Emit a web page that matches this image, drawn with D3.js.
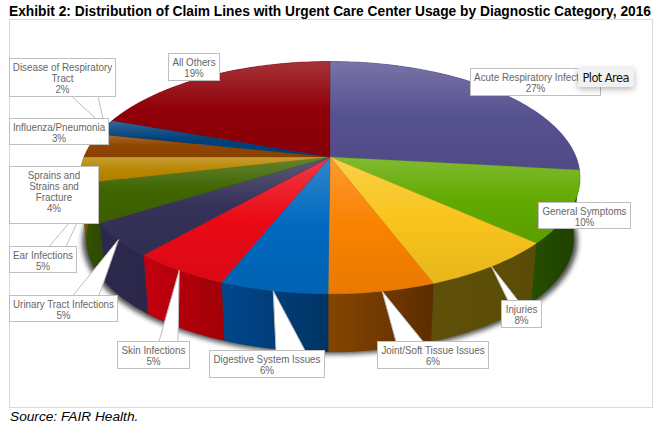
<!DOCTYPE html>
<html><head><meta charset="utf-8">
<style>html,body{margin:0;padding:0;background:#fff}svg{display:block}text{font-family:"Liberation Sans",Arial,sans-serif}</style>
<script src="https://cdnjs.cloudflare.com/ajax/libs/d3/7.8.5/d3.min.js"></script>
</head><body><svg id="c" width="661" height="433"></svg>
<script>
const categories=["Acute Respiratory Infections","General Symptoms","Injuries","Joint/Soft Tissue Issues","Digestive System Issues","Skin Infections","Urinary Tract Infections","Ear Infections","Sprains and Strains and Fracture","Influenza/Pneumonia","Disease of Respiratory Tract","All Others"];
const values=[26.8,10.0,7.5,5.8,5.9,5.4,4.7,5.3,3.6,3.4,2.2,19.4];
const colors=["#565190","#62aa00","#f8c41c","#fa8200","#0069bf","#ea0a16","#353158","#3f6500","#b98600","#924600","#00427c","#900008"];
const sideLeft=["#3c3868","#264f00","#5e5008","#864600","#00478c","#c4000f","#2c294e","#345400","#7a5800","#6a3300","#00305c","#6a0006"];
const sideRight=["#3c3868","#1e4000","#5a4c04","#5c2d00","#003464","#a00006","#2a274a","#2c4800","#7a5800","#6a3300","#00305c","#6a0006"];
const labelLines=[["Acute Respiratory Infections"],["General Symptoms"],["Injuries"],["Joint/Soft Tissue Issues"],["Digestive System Issues"],["Skin Infections"],["Urinary Tract Infections"],["Ear Infections"],["Sprains and","Strains and","Fracture"],["Influenza/Pneumonia"],["Disease of Respiratory","Tract"],["All Others"]];
// layout only: label box [x0,y0,x1,y1] and callout base [xa,xb] (null = no callout)
const boxes=[[470.5,68.5,600.5,95.5],[538.5,202.5,630.5,228.5],[501.5,300.5,541.5,327.5],[377.5,341.5,488.5,368.5],[209.5,350.5,324.5,377.5],[117.5,341.5,189.5,368.5],[9.5,295.5,117.5,321.5],[9.5,246.5,76.5,272.5],[9.5,166.5,98.5,223.5],[9.5,118.5,108.5,144.5],[9.5,58.5,115.5,96.5],[168.5,53.5,219.5,80.5]];
const bases=[null,null,[508,518],[396,423],[276,305],[159,178],[73,99],[49,66],null,null,[72,98],null];

const svg=d3.select("#c"),defs=svg.append("defs");
const cx=330,cy=157,A=246,B=112.5,k=0.178,depth=61.4,shrink=0.975;
function project(a,bottom){
  const u=Math.sin(a),v=-Math.cos(a),w=1-k*v,s=bottom?shrink:1;
  return [cx+s*A*u/w, cy+(bottom?depth:0)+s*B*v/w];
}
const arcs=d3.pie().sort(null).value(d=>d)(values);
const samples=(a0,a1)=>{const n=Math.max(2,Math.ceil((a1-a0)/0.02));return d3.range(n+1).map(i=>a0+(a1-a0)*i/n);};
const line=d3.line().curve(d3.curveLinear);

const sh=defs.append("filter").attr("id","blur").attr("x","-10%").attr("y","-10%").attr("width","120%").attr("height","120%");
sh.append("feGaussianBlur").attr("stdDeviation",2.6);
const tip=defs.append("filter").attr("id","tipShadow").attr("x","-30%").attr("y","-50%").attr("width","160%").attr("height","220%");
tip.append("feDropShadow").attr("dx",0).attr("dy",2).attr("stdDeviation",3).attr("flood-color","#000").attr("flood-opacity",.3);

arcs.forEach((d,i)=>{
  const c=colors[i];
  const g=defs.append("linearGradient").attr("id","top"+i).attr("x1",0).attr("y1",0).attr("x2",0).attr("y2",1);
  g.append("stop").attr("offset",0).attr("stop-color",d3.interpolateRgb(c,"#fff")(.2));
  g.append("stop").attr("offset",.5).attr("stop-color",c);
  g.append("stop").attr("offset",1).attr("stop-color",d3.interpolateRgb(c,"#000")(.07));
  const s=defs.append("linearGradient").attr("id","side"+i).attr("x1",0).attr("y1",0).attr("x2",1).attr("y2",0);
  s.append("stop").attr("offset",0).attr("stop-color",sideLeft[i]);
  s.append("stop").attr("offset",1).attr("stop-color",sideRight[i]);
});

// frame
svg.append("rect").attr("x",9.5).attr("y",19.5).attr("width",643).attr("height",388).attr("fill","#fff").attr("stroke","#d9d9d9");

// shadow below the pie body
svg.append("path").attr("d",line(samples(0,2*Math.PI).map(a=>{const p=project(a,true);return [p[0]+(p[0]-cx)*.016,p[1]+2.5];}))+"Z")
  .attr("fill","#333").attr("opacity",.85).attr("filter","url(#blur)");

// walls
svg.append("g").selectAll("path").data(arcs).join("path")
  .attr("d",d=>{const t=samples(d.startAngle,d.endAngle);return line(t.map(a=>project(a,false)).concat(t.slice().reverse().map(a=>project(a,true))))+"Z";})
  .attr("fill",(d,i)=>`url(#side${i})`).attr("stroke",(d,i)=>sideRight[i]).attr("stroke-width",.3);

// top faces
svg.append("g").selectAll("path").data(arcs).join("path")
  .attr("d",d=>line([[cx,cy]].concat(samples(d.startAngle,d.endAngle).map(a=>project(a,false))))+"Z")
  .attr("fill",(d,i)=>`url(#top${i})`).attr("stroke",(d,i)=>colors[i]).attr("stroke-width",.3);

// callouts and label boxes
const lab=svg.append("g");
arcs.forEach((d,i)=>{
  if(!bases[i])return;
  const [bx,by0,,by1]=boxes[i];
  const t=project((d.startAngle+d.endAngle)/2,false);
  const y=t[1]<by0?by0:by1;
  lab.append("path").attr("d",line([[bases[i][0],y],t,[bases[i][1],y]])+"Z").attr("fill","#fff").attr("stroke","#bfbfbf");
});
const fmt=d3.format(".0f");
arcs.forEach((d,i)=>{
  const b=boxes[i],m=(b[0]+b[2])/2;
  lab.append("rect").attr("x",b[0]).attr("y",b[1]).attr("width",b[2]-b[0]).attr("height",b[3]-b[1]).attr("fill","#fff").attr("stroke","#bfbfbf");
  const lines=labelLines[i].concat([fmt(values[i])+"%"]);
  lines.forEach((t,j)=>{
    const el=lab.append("text").attr("x",m).attr("y",b[1]+12+j*11).attr("text-anchor","middle").attr("font-size",10.5).attr("fill","#666").text(t);
    el.attr("textLength",el.node().getComputedTextLength()*.935).attr("lengthAdjust","spacingAndGlyphs");
  });
});

// tooltip
const tt=svg.append("g");
tt.append("rect").attr("x",578).attr("y",68).attr("width",56).attr("height",19).attr("fill","#f1f1f1").attr("filter","url(#tipShadow)");
tt.append("text").attr("x",606).attr("y",82).attr("text-anchor","middle").attr("font-size",11.5).attr("fill","#111").style("font-family","'DejaVu Sans'").attr("textLength",47).text("Plot Area");

// title and source
svg.append("text").attr("x",9).attr("y",15.5).attr("font-size",14).attr("font-weight","bold").attr("fill","#000").attr("textLength",642).attr("lengthAdjust","spacingAndGlyphs").text("Exhibit 2: Distribution of Claim Lines with Urgent Care Center Usage by Diagnostic Category, 2016");
svg.append("text").attr("x",10).attr("y",421).attr("font-size",13.7).attr("font-style","italic").attr("fill","#000").text("Source: FAIR Health.");
</script></body></html>
